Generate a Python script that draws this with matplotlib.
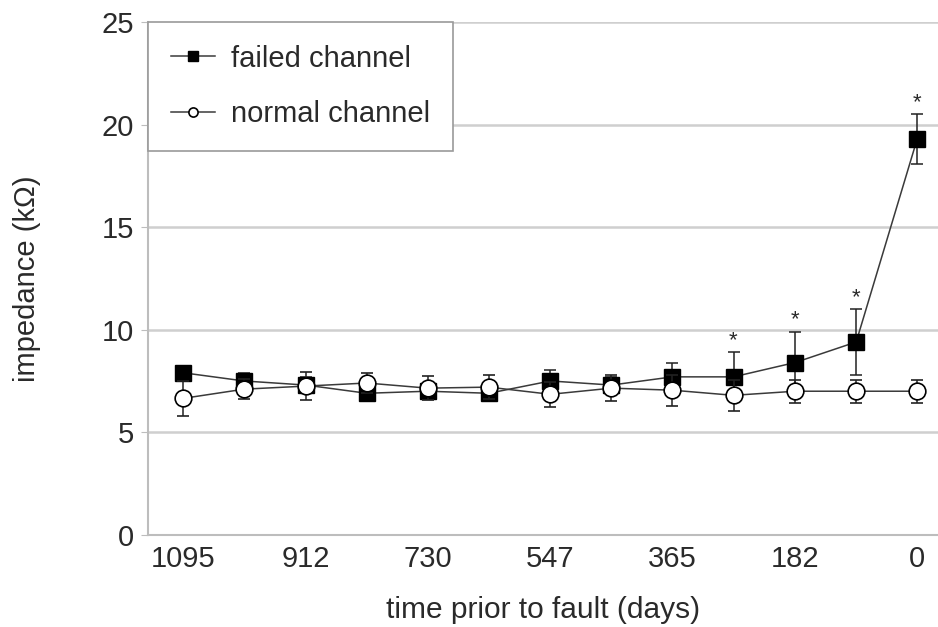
import matplotlib
matplotlib.use("Agg")
import matplotlib.pyplot as plt

plt.rcParams['font.family'] = ['Liberation Sans', 'DejaVu Sans']

# days before the fault (x) and mean impedance in kOhm with error bars
days = [1095, 1004, 912, 821, 730, 639, 547, 456, 365, 274, 182, 91, 0]
tick_days = [1095, 912, 730, 547, 365, 182, 0]

failed = [7.9, 7.5, 7.3, 6.9, 7.0, 6.9, 7.5, 7.3, 7.7, 7.7, 8.4, 9.4, 19.3]
failed_err = [0.3, 0.4, 0.4, 0.4, 0.4, 0.4, 0.55, 0.4, 0.7, 1.2, 1.5, 1.6, 1.2]

normal = [6.65, 7.1, 7.25, 7.4, 7.15, 7.2, 6.85, 7.15, 7.05, 6.8, 7.0, 7.0, 7.0]
normal_err = [0.85, 0.5, 0.7, 0.5, 0.6, 0.6, 0.6, 0.65, 0.75, 0.75, 0.55, 0.55, 0.55]

# points marked significant (*)
signif = [274, 182, 91, 0]

fig = plt.figure(figsize=(9.38, 6.27), dpi=100)
ax = fig.add_axes([0.158, 0.147, 0.842, 0.818])

txt = '#2a2a2a'
line_c = '#3a3a3a'

eb_f = ax.errorbar(days, failed, yerr=failed_err, color=line_c, lw=1.1,
                   marker='s', ms=12, mfc='black', mec='black',
                   ecolor='#222222', elinewidth=1.1, capsize=4, capthick=1.1,
                   zorder=3)
eb_n = ax.errorbar(days, normal, yerr=normal_err, color=line_c, lw=1.1,
                   marker='o', ms=12, mfc='white', mec='black', mew=1.2,
                   ecolor='#222222', elinewidth=1.1, capsize=4, capthick=1.1,
                   zorder=4)

for d in signif:
    i = days.index(d)
    ax.annotate('*', (d, failed[i] + failed_err[i]), xytext=(0, 1),
                textcoords='offset points', ha='center', va='bottom',
                fontsize=16, color=txt)

ax.set_xlim(1147, -31)
ax.set_ylim(0, 25)
ax.set_xticks(tick_days)
ax.set_xticklabels([str(d) for d in tick_days])
ax.set_yticks([0, 5, 10, 15, 20, 25])

ax.grid(axis='y', color='#cfcfcf', lw=1.8)
ax.set_axisbelow(True)
for s in ['top', 'right']:
    ax.spines[s].set_visible(False)
for s in ['left', 'bottom']:
    ax.spines[s].set_color('#bdbdbd')
    ax.spines[s].set_linewidth(1.5)

ax.tick_params(axis='x', length=0, pad=7, labelsize=21, labelcolor=txt)
ax.tick_params(axis='y', length=5, color='#bdbdbd', pad=5, labelsize=21, labelcolor=txt)

ax.set_xlabel('time prior to fault (days)', fontsize=21.5, color=txt, labelpad=17)
ax.set_ylabel('impedance (k\u03a9)', fontsize=21, color=txt, labelpad=44)

leg = ax.legend([eb_f[0], eb_n[0]], ['failed channel', 'normal channel'],
                loc='upper left', bbox_to_anchor=(0, 1), borderaxespad=0,
                fancybox=False, fontsize=21, markerscale=0.55,
                handlelength=1.5, labelspacing=0.95, borderpad=0.78,
                handletextpad=0.55, framealpha=1)
leg.get_frame().set_edgecolor('#9a9a9a')
leg.get_frame().set_linewidth(1.2)
for t in leg.get_texts():
    t.set_color(txt)

fig.savefig('out.png', dpi=100)
